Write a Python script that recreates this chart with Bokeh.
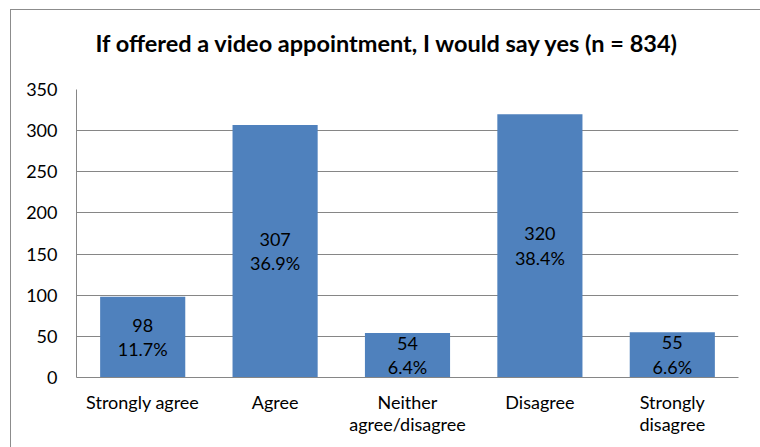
from bokeh.plotting import figure
from bokeh.models import ColumnDataSource, Range1d, FixedTicker, Title
from bokeh.core.properties import value
from bokeh.embed import file_html
from bokeh.resources import INLINE

categories = ["Strongly agree", "Agree", "Neither\nagree/disagree", "Disagree", "Strongly\ndisagree"]
counts = [98, 307, 54, 320, 55]
percents = ["11.7%", "36.9%", "6.4%", "38.4%", "6.6%"]
title_text = "If offered a video appointment, I would say yes (n = 834)"
y_ticks = [0, 50, 100, 150, 200, 250, 300, 350]

FONT = "Lato"
GRID = "#868686"

src = ColumnDataSource(dict(
    cat=categories,
    val=counts,
    mid=[v / 2 for v in counts],
    cnt=[str(v) for v in counts],
    pct=percents,
))

p = figure(x_range=categories, y_range=Range1d(0, 350), width=750, height=438,
           output_backend="svg", toolbar_location=None,
           min_border_left=65, min_border_right=23, min_border_top=79, min_border_bottom=71)
p.styles = {"margin-left": "10px", "margin-top": "9px",
            "border-left": "1px solid #8c8c8c", "border-top": "1px solid #8c8c8c",
            "box-sizing": "border-box"}
p.outline_line_color = None
p.background_fill_color = "white"
p.border_fill_color = "white"

# spacer between title and plot frame
spacer = Title(text=" ", text_font=FONT, text_font_size="1px", standoff=30)
p.add_layout(spacer, "above")
t = Title(text=title_text, align="left", offset=19, text_font=FONT, text_font_size="23.5px",
          text_font_style="bold", text_color="black", standoff=0)
p.add_layout(t, "above")

p.vbar(x="cat", top="val", width=0.643, source=src, fill_color="#4F81BD", line_color=None)

p.text(x="cat", y="mid", text="cnt", source=src, text_align="center", text_baseline="middle",
       y_offset=-12, text_font=value(FONT), text_font_size="18px", text_color="black")
p.text(x="cat", y="mid", text="pct", source=src, text_align="center", text_baseline="middle",
       y_offset=12, text_font=value(FONT), text_font_size="18px", text_color="black")

p.yaxis.ticker = FixedTicker(ticks=y_ticks)
p.ygrid.ticker = FixedTicker(ticks=y_ticks)
p.ygrid.grid_line_color = GRID
p.xgrid.grid_line_color = None

for ax in (p.xaxis[0], p.yaxis[0]):
    ax.axis_line_color = GRID
    ax.major_tick_line_color = None
    ax.minor_tick_line_color = None
    ax.major_tick_out = 0
    ax.major_tick_in = 0
    ax.major_label_text_font = FONT
    ax.major_label_text_font_size = "18px"
    ax.major_label_text_color = "black"

p.yaxis.major_label_standoff = 19
p.xaxis.major_label_standoff = 13
p.xaxis.major_label_text_line_height = 1.0

open("out.html", "w").write(file_html(p, INLINE))
